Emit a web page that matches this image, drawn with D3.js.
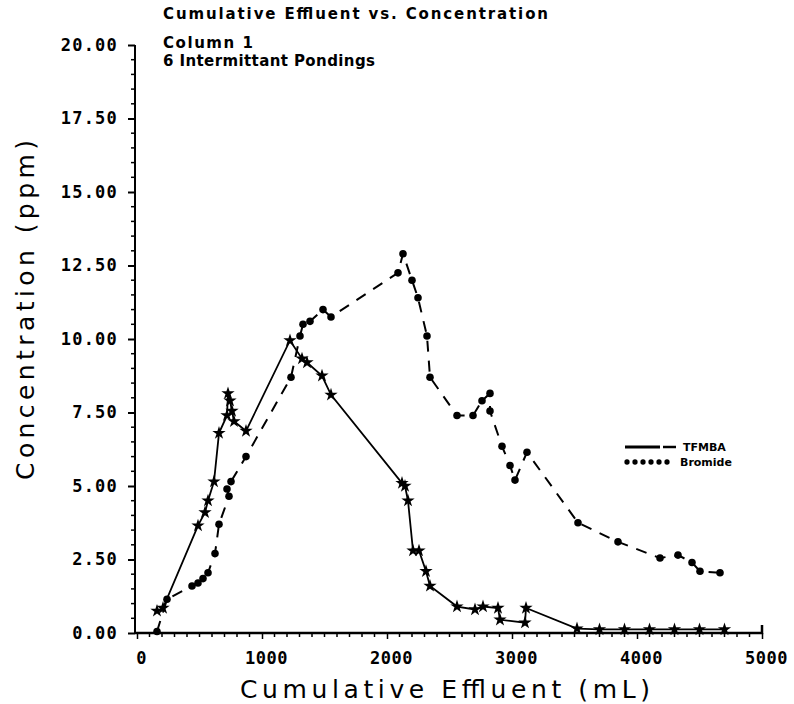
<!DOCTYPE html>
<html><head><meta charset="utf-8">
<script src="https://cdn.jsdelivr.net/npm/d3@7"></script>
<style>body{margin:0;background:#fff}svg{display:block}</style>
</head><body>
<svg id="chart" width="794" height="704"></svg>
<script>
// ---- data ----
const titleLines = ["Cumulative Effluent vs. Concentration", "Column 1", "6 Intermittant Pondings"];
const xLabel = "Cumulative Effluent (mL)";
const yLabel = "Concentration (ppm)";
const xTickValues = [0, 1000, 2000, 3000, 4000, 5000];
const xTickLabels = ["0", "1000", "2000", "3000", "4000", "5000"];
const yTickValues = [0, 2.5, 5, 7.5, 10, 12.5, 15, 17.5, 20];
const yTickLabels = ["0.00", "2.50", "5.00", "7.50", "10.00", "12.50", "15.00", "17.50", "20.00"];
const seriesNames = ["TFMBA", "Bromide"];

const tfmbaX = [160, 208, 488, 544, 568, 616, 656, 720, 728, 744, 760, 776, 872, 1224, 1320, 1360, 1480, 1552,
  2120, 2144, 2168, 2208, 2256, 2312, 2344, 2560, 2704, 2768, 2888, 2904, 3104, 3112, 3520, 3700, 3900, 4100, 4300, 4500, 4700];
const tfmbaY = [0.75, 0.85, 3.65, 4.1, 4.5, 5.15, 6.8, 7.4, 8.15, 7.9, 7.55, 7.2, 6.87, 9.95, 9.33, 9.2, 8.75, 8.1,
  5.1, 5.0, 4.5, 2.8, 2.8, 2.1, 1.6, 0.9, 0.8, 0.9, 0.85, 0.45, 0.35, 0.85, 0.15, 0.12, 0.12, 0.12, 0.12, 0.12, 0.12];

const bromX = [160, 240, 440, 488, 528, 568, 624, 656, 736, 720, 752, 872, 1232, 1304, 1328, 1384, 1488, 1552,
  2088, 2128, 2200, 2248, 2320, 2344, 2560, 2688, 2760, 2824, 2824, 2920, 2984, 3024, 3120, 3528, 3848, 4184, 4328, 4440, 4504, 4664];
const bromY = [0.05, 1.15, 1.6, 1.7, 1.85, 2.05, 2.7, 3.7, 4.65, 4.9, 5.15, 6.0, 8.7, 10.1, 10.5, 10.6, 11.0, 10.75,
  12.25, 12.9, 12.0, 11.4, 10.1, 8.7, 7.4, 7.4, 7.9, 8.15, 7.55, 6.35, 5.7, 5.2, 6.15, 3.75, 3.1, 2.55, 2.65, 2.4, 2.1, 2.05];

// ---- chart ----
const svg = d3.select("#chart");
const x = d3.scaleLinear().domain([0, 5000]).range([137, 762]);
const y = d3.scaleLinear().domain([0, 20]).range([633, 45]);
const ink = "#000";
const mono = "'DejaVu Sans Mono', monospace";
const sans = "'DejaVu Sans', sans-serif";

// title
const tY = [19, 48, 66];
const tLen = [385, 90, 212];
titleLines.forEach((t, i) => {
  svg.append("text").attr("x", 163).attr("y", tY[i])
    .attr("font-family", sans).attr("font-size", 15).attr("font-weight", 600)
    .attr("textLength", tLen[i]).attr("lengthAdjust", "spacing")
    .attr("fill", ink).text(t);
});

// y axis
const yAxis = d3.axisLeft(y).tickValues(yTickValues).tickSize(7).tickFormat((d, i) => yTickLabels[i]).tickPadding(10);
const gy = svg.append("g").attr("transform", "translate(135,0)").call(yAxis);
gy.select(".domain").attr("stroke", ink).attr("stroke-width", 2).attr("d", `M0,${y(20)}V${y(0)}`);
gy.selectAll(".tick line").attr("stroke", ink).attr("stroke-width", 2);
gy.selectAll(".tick text").attr("font-family", mono).attr("font-size", 17).attr("font-weight", "bold")
  .attr("letter-spacing", 1.2).attr("fill", ink);
const yMinor = d3.range(0, 20.01, 0.5).filter(v => Math.abs(v / 2.5 - Math.round(v / 2.5)) > 1e-6);
svg.append("g").selectAll("line").data(yMinor).join("line")
  .attr("x1", 131).attr("x2", 135).attr("y1", d => y(d)).attr("y2", d => y(d))
  .attr("stroke", ink).attr("stroke-width", 1.5);

// x axis
const xAxis = d3.axisBottom(x).tickValues(xTickValues).tickSize(6).tickFormat((d, i) => xTickLabels[i]).tickPadding(13);
const gx = svg.append("g").attr("transform", "translate(0,633)").call(xAxis);
gx.select(".domain").attr("stroke", ink).attr("stroke-width", 2.5).attr("d", `M135,0H${x(5000)}V-8`);
gx.selectAll(".tick line").attr("stroke", ink).attr("stroke-width", 1.5);
gx.selectAll(".tick text").attr("font-family", mono).attr("font-size", 17).attr("font-weight", "bold")
  .attr("letter-spacing", 0.5).attr("fill", ink).attr("dx", 4);
const xMinor = d3.range(0, 5001, 100).filter(v => v % 1000 !== 0);
svg.append("g").selectAll("line").data(xMinor).join("line")
  .attr("x1", d => x(d)).attr("x2", d => x(d)).attr("y1", 633).attr("y2", 637)
  .attr("stroke", ink).attr("stroke-width", 1.5);

// axis titles
svg.append("text").attr("x", 445).attr("y", 698).attr("text-anchor", "middle")
  .attr("font-family", sans).attr("font-size", 25).attr("textLength", 410).attr("lengthAdjust", "spacing")
  .attr("fill", ink).text(xLabel);
svg.append("text").attr("transform", "translate(34,310) rotate(-90)").attr("text-anchor", "middle")
  .attr("font-family", sans).attr("font-size", 25).attr("textLength", 340).attr("lengthAdjust", "spacing")
  .attr("fill", ink).text(yLabel);

// series
const tData = tfmbaX.map((v, i) => [v, tfmbaY[i]]);
const bData = bromX.map((v, i) => [v, bromY[i]]);
const line = d3.line().x(d => x(d[0])).y(d => y(d[1]));

svg.append("path").datum(tData).attr("d", line).attr("fill", "none")
  .attr("stroke", ink).attr("stroke-width", 1.8);
svg.append("path").datum(bData).attr("d", line).attr("fill", "none")
  .attr("stroke", ink).attr("stroke-width", 2).attr("stroke-dasharray", "11,9");

const star = d3.symbol().type(d3.symbolStar).size(55);
const circ = d3.symbol().type(d3.symbolCircle).size(45);
svg.append("g").selectAll("path").data(tData).join("path")
  .attr("transform", d => `translate(${x(d[0])},${y(d[1])})`).attr("d", star).attr("fill", ink);
svg.append("g").selectAll("path").data(bData).join("path")
  .attr("transform", d => `translate(${x(d[0])},${y(d[1])})`).attr("d", circ).attr("fill", ink);

// legend
const lg = svg.append("g");
const legY = [447, 462];
lg.append("line").attr("x1", 625).attr("x2", 660).attr("y1", legY[0]).attr("y2", legY[0]).attr("stroke", ink).attr("stroke-width", 3);
lg.append("line").attr("x1", 663).attr("x2", 676).attr("y1", legY[0]).attr("y2", legY[0]).attr("stroke", ink).attr("stroke-width", 2.5);
lg.selectAll(".lc").data(d3.range(627, 672, 8)).join("path").attr("class", "lc")
  .attr("transform", d => `translate(${d},${legY[1]})`).attr("d", d3.symbol().type(d3.symbolCircle).size(22)).attr("fill", ink);
seriesNames.forEach((n, i) => {
  lg.append("text").attr("x", i === 0 ? 683 : 680).attr("y", legY[i] + 4)
    .attr("font-family", sans).attr("font-size", 11).attr("font-weight", "bold").attr("fill", ink).text(n);
});
</script>
</body></html>
